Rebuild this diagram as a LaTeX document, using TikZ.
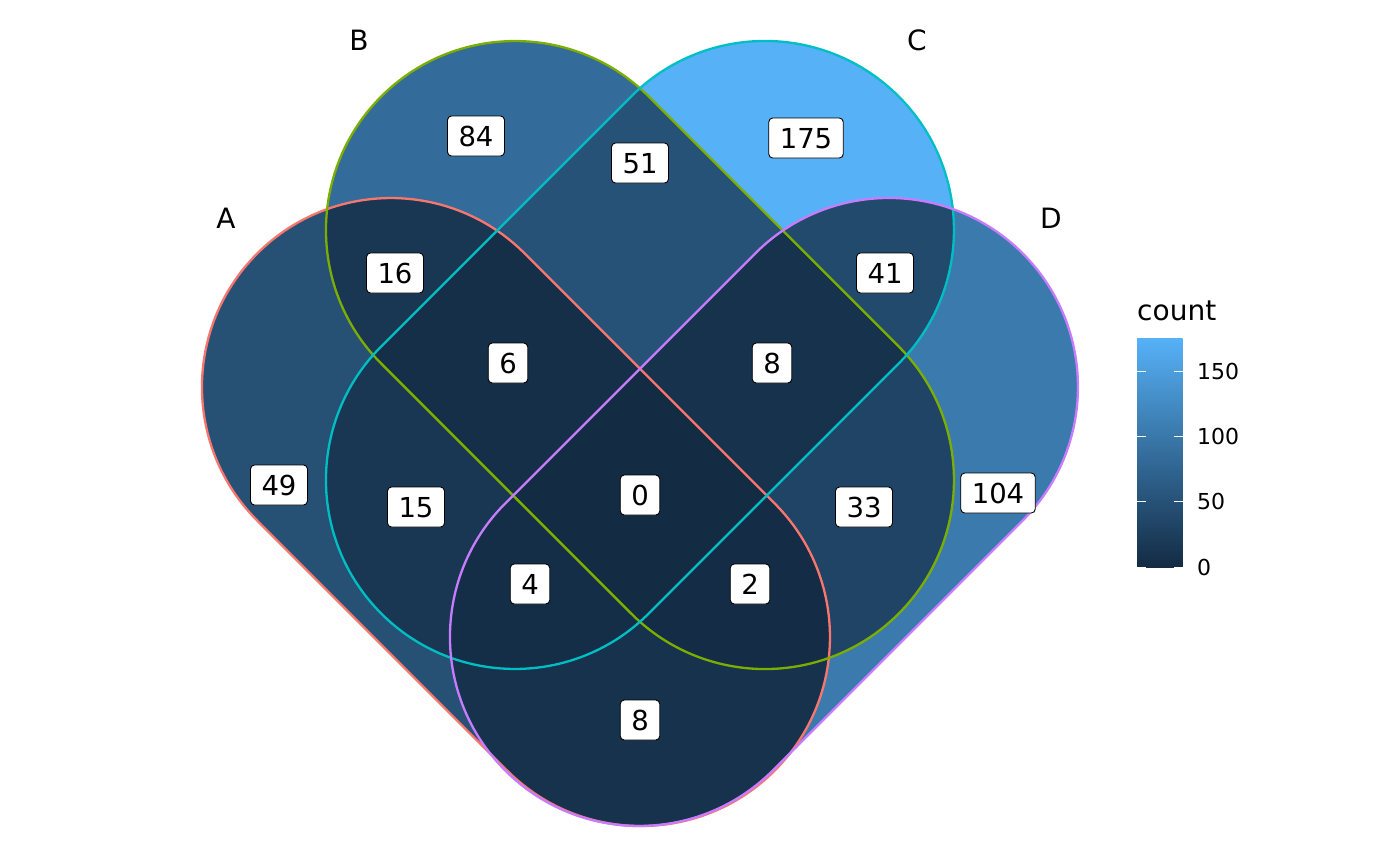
\documentclass[tikz,border=0pt]{standalone}
\usepackage{tikz}
\usepackage{fontspec}
\setmainfont{DejaVu Sans}

\definecolor{lo}{HTML}{132B43}
\definecolor{hi}{HTML}{56B1F7}
\colorlet{cA}{hi!28!lo}
\colorlet{cB}{hi!48!lo}
\colorlet{cC}{hi!100!lo}
\colorlet{cD}{hi!59!lo}
\colorlet{cAB}{hi!9!lo}
\colorlet{cAC}{hi!9!lo}
\colorlet{cAD}{hi!5!lo}
\colorlet{cBC}{hi!29!lo}
\colorlet{cBD}{hi!19!lo}
\colorlet{cCD}{hi!23!lo}
\colorlet{cABC}{hi!3!lo}
\colorlet{cABD}{hi!1!lo}
\colorlet{cACD}{hi!2!lo}
\colorlet{cBCD}{hi!5!lo}
\colorlet{cABCD}{lo}
\definecolor{edgeA}{HTML}{F8766D}
\definecolor{edgeB}{HTML}{7CAE00}
\definecolor{edgeC}{HTML}{00BFC4}
\definecolor{edgeD}{HTML}{C77CFF}

% stadium shapes, #1,#2 = upper end centre
\newcommand{\setdr}[2]{(#1+133.6,#2-133.6) -- ++(250,250) arc[start angle=-45,end angle=135,radius=189] -- ++(-250,-250) arc[start angle=135,end angle=315,radius=189] -- cycle}
\newcommand{\setdl}[2]{(#1+133.6,#2+133.6) -- ++(-250,250) arc[start angle=45,end angle=225,radius=189] -- ++(250,-250) arc[start angle=225,end angle=405,radius=189] -- cycle}
\newcommand{\setA}{\setdr{391}{387}}
\newcommand{\setB}{\setdr{515}{230}}
\newcommand{\setC}{\setdl{765}{230}}
\newcommand{\setD}{\setdl{889}{387}}
\newcommand{\fillregion}[2]{\begin{scope}#2\fill[#1] (0,0) rectangle (1400,865);\end{scope}}

\begin{document}
\begin{tikzpicture}[x=1pt,y=-1pt]
	 \tikzstyle{count label}=[draw=black,line width=0.9pt,fill=white,rounded corners=4pt,inner xsep=11pt,inner ysep=10pt,text height=20pt,text depth=0pt,font=\fontsize{27.5}{30}\selectfont]
	 \tikzstyle{set name}=[inner sep=0pt,font=\fontsize{28}{30}\selectfont]
	 \tikzstyle{tick label}=[anchor=west,inner sep=0pt,font=\fontsize{22}{24}\selectfont]
	 \tikzstyle{set edge}=[line width=2.3pt]
	 \tikzstyle{bar tick}=[white,line width=1pt]

	 \useasboundingbox (0,0) rectangle (1400,865);

	 \fillregion{cA}{\clip \setA;}
	 \fillregion{cB}{\clip \setB;}
	 \fillregion{cC}{\clip \setC;}
	 \fillregion{cD}{\clip \setD;}
	 \fillregion{cAB}{\clip \setA; \clip \setB;}
	 \fillregion{cAC}{\clip \setA; \clip \setC;}
	 \fillregion{cAD}{\clip \setA; \clip \setD;}
	 \fillregion{cBC}{\clip \setB; \clip \setC;}
	 \fillregion{cBD}{\clip \setB; \clip \setD;}
	 \fillregion{cCD}{\clip \setC; \clip \setD;}
	 \fillregion{cABC}{\clip \setA; \clip \setB; \clip \setC;}
	 \fillregion{cABD}{\clip \setA; \clip \setB; \clip \setD;}
	 \fillregion{cACD}{\clip \setA; \clip \setC; \clip \setD;}
	 \fillregion{cBCD}{\clip \setB; \clip \setC; \clip \setD;}
	 \fillregion{cABCD}{\clip \setA; \clip \setB; \clip \setC; \clip \setD;}

	 \draw[set edge,edgeA] \setA;
	 \draw[set edge,edgeB] \setB;
	 \draw[set edge,edgeC] \setC;
	 \draw[set edge,edgeD] \setD;

	 \node[set name] (nameA) at (226,218) {A};
	 \node[set name] (nameB) at (359,40) {B};
	 \node[set name] (nameC) at (917,40) {C};
	 \node[set name] (nameD) at (1051,218) {D};

	 \node[count label] (onlyA) at (279,485) {49};
	 \node[count label] (onlyB) at (476,136) {84};
	 \node[count label] (onlyC) at (806,138) {175};
	 \node[count label] (onlyD) at (998,493) {104};
	 \node[count label] (AB) at (395,273) {16};
	 \node[count label] (BC) at (640,163) {51};
	 \node[count label] (CD) at (885,273) {41};
	 \node[count label] (AC) at (416,507) {15};
	 \node[count label] (BD) at (864,507) {33};
	 \node[count label] (AD) at (640,720) {8};
	 \node[count label] (ABC) at (508,363) {6};
	 \node[count label] (BCD) at (772,363) {8};
	 \node[count label] (ACD) at (530,584) {4};
	 \node[count label] (ABD) at (750,584) {2};
	 \node[count label] (ABCD) at (640,495) {0};

	 \node[anchor=base west,inner sep=0pt,font=\fontsize{28}{30}\selectfont] (title) at (1137,320) {count};
	 \shade[bottom color=lo,top color=hi] (1137,567.3) rectangle (1182.5,338.5);
	 \foreach \v/\y in {0/567.3,50/501.9,100/436.6,150/371.2} {
	 	\draw[bar tick] (1137,\y) -- ++(9,0);
	 	\draw[bar tick] (1182.5,\y) -- ++(-9,0);
	 	\node[tick label] (tick\v) at (1197,\y) {\v};
	 }
\end{tikzpicture}
\end{document}
